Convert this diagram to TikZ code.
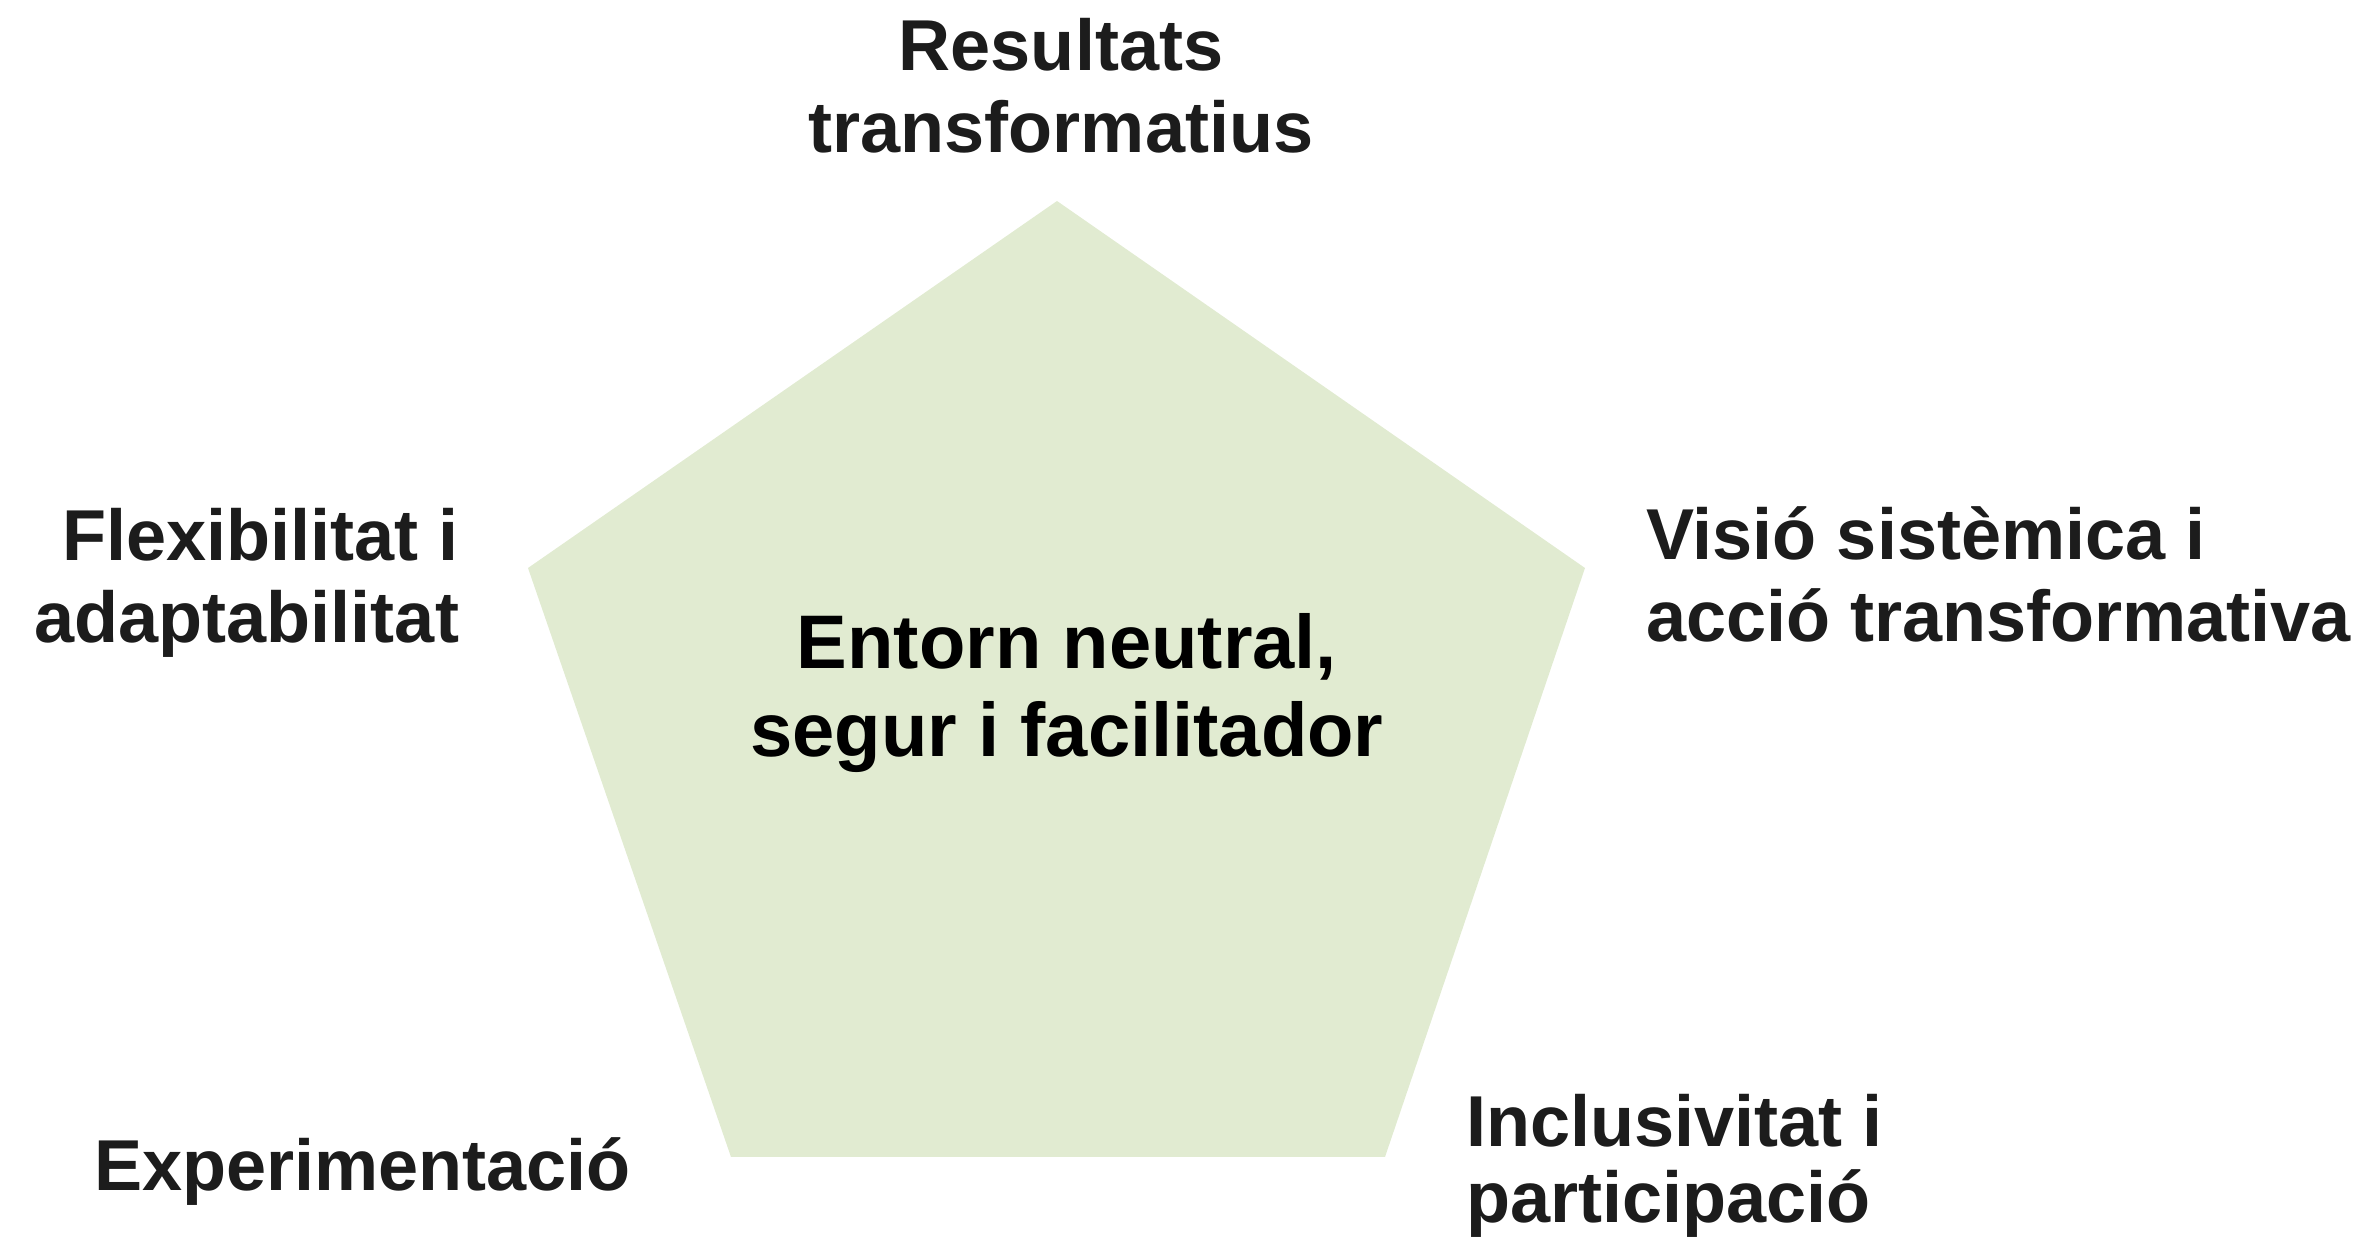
\documentclass[tikz,border=0pt]{standalone}
\usepackage{fontspec}
\setmainfont{Liberation Sans}
\usepackage{tikz}
\usetikzlibrary{calc}
\definecolor{pentfill}{HTML}{E1EBD1}
\definecolor{lbltext}{HTML}{1C1C1C}

\begin{document}
\begin{tikzpicture}
	[x=0.01cm,y=-0.01cm,every node/.style={inner sep=0pt, outer sep=0pt}]
	\tikzstyle{lbl} = [text=lbltext, font=\bfseries\fontsize{20.5}{23.6}\selectfont];
	\tikzstyle{mid} = [text=black, font=\bfseries\fontsize{21.6}{25.3}\selectfont, align=center];
	\useasboundingbox (0,0) rectangle (2374,1246);
	
	\coordinate (p1) at (1057,201);
	\coordinate (p2) at (1585,568);
	\coordinate (p3) at (1385,1157);
	\coordinate (p4) at (731,1157);
	\coordinate (p5) at (528,568);
	\fill[pentfill] (p1) -- (p2) -- (p3) -- (p4) -- (p5) -- cycle;
	
	% base = baseline of the last line
	\node[mid, anchor=base] (entorn) at (1067,757) {Entorn neutral,\\segur i facilitador};
	
	\node[lbl, align=center, anchor=base] (resultats) at (1061,153) {Resultats\\transformatius};
	\node[lbl, align=right, anchor=base east] (flexib) at (459,643) {Flexibilitat i\\adaptabilitat};
	\node[lbl, align=left, anchor=base west] (visio) at (1646,642) {Visió sistèmica i\\acció transformativa};
	\node[lbl, anchor=base west] (experim) at (94,1190) {Experimentació};
	\node[lbl, align=left, anchor=base west, font=\bfseries\fontsize{20.5}{21.5}\selectfont] (inclus) at (1466,1222) {Inclusivitat i\\participació};
\end{tikzpicture}
\end{document}
